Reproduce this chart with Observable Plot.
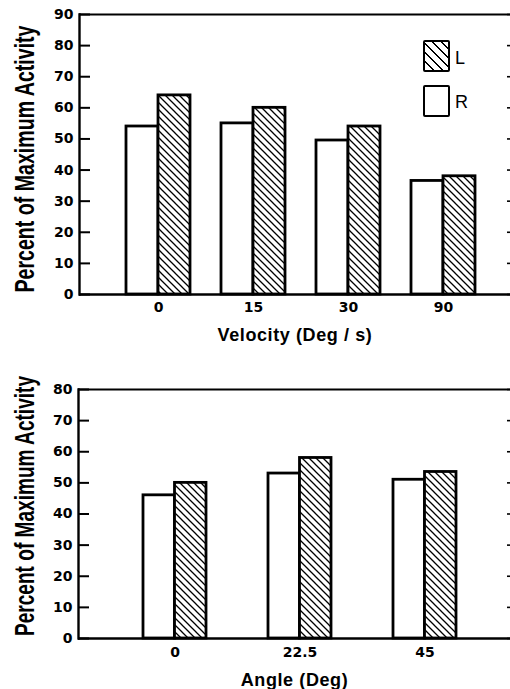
<!DOCTYPE html>
<html><head><meta charset="utf-8">
<script src="https://cdn.jsdelivr.net/npm/d3@7"></script>
<script src="https://cdn.jsdelivr.net/npm/@observablehq/plot@0.6"></script>
<style>
html,body{margin:0;padding:0;background:#fff;overflow:hidden}
#wrap{position:relative;width:510px;height:689px}
#wrap svg{display:block}
g[aria-label="y-axis label"] text{font-family:"Liberation Sans",Arial,sans-serif;font-size:19.5px;font-weight:bold}
g[aria-label="x-axis label"] text{font-family:"Liberation Sans",Arial,sans-serif;font-size:18px;font-weight:bold;letter-spacing:0.6px}
.lg{position:absolute;left:423px;width:60px;height:80px}
.lg .box{position:absolute;left:0;width:23px;height:28px;border:2.6px solid #000;border-radius:2px;background:#fff}
.lg .hatch{background:repeating-linear-gradient(45deg,#fff 0 5px,#000 5px 6.5px)}
.lg .t{position:absolute;left:32px;font:18px "Liberation Sans",Arial,sans-serif;line-height:20px}
</style>
</head><body>
<svg width="0" height="0" style="position:absolute">
<defs><pattern id="hatch" patternUnits="userSpaceOnUse" width="7" height="7"><rect width="7" height="7" fill="#fff"/><path d="M0,0L7,7M-1,6L1,8M6,-1L8,1" stroke="#000" stroke-width="1.3"/></pattern></defs></svg>
<div id="wrap">
<div id="topChart"></div>
<div id="bottomChart"></div>
<div class="lg" style="top:40px">
  <div class="box hatch" style="top:0"></div><div class="t" style="top:8px">L</div>
  <div class="box" style="top:45px"></div><div class="t" style="top:52px">R</div>
</div>
</div>
<script>
const yLabel = "Percent of Maximum Activity";

const velocityCats = ["0", "15", "30", "90"];
const velocityR = [54, 55, 49.5, 36.5];
const velocityL = [64, 60, 54, 38];
const velocityTicks = [0, 10, 20, 30, 40, 50, 60, 70, 80, 90];
const velocityLabel = "Velocity (Deg / s)";

const angleCats = ["0", "22.5", "45"];
const angleR = [46, 53, 51];
const angleL = [50, 58, 53.5];
const angleTicks = [0, 10, 20, 30, 40, 50, 60, 70, 80];
const angleLabel = "Angle (Deg)";

function chart(cats, rVals, lVals, ticks, xLabel, o) {
  const rData = cats.map((c, i) => ({cat: c, v: rVals[i]}));
  const lData = cats.map((c, i) => ({cat: c, v: lVals[i]}));
  const yMax = ticks[ticks.length - 1];
  const W = 510 - o.marginLeft;
  return Plot.plot({
    width: 510, height: o.height,
    marginTop: o.marginTop, marginBottom: o.marginBottom, marginLeft: o.marginLeft, marginRight: 0,
    style: {fontFamily: "DejaVu Sans", fontSize: "14px", fontWeight: "bold", color: "#000", background: "transparent", overflow: "visible"},
    x: {domain: cats, paddingInner: o.pi, paddingOuter: o.po, align: o.align},
    y: {domain: [0, yMax]},
    marks: [
      Plot.barY(rData, {x: "cat", y: "v", fill: "#fff", stroke: "#000", strokeWidth: 2.8, insetRight: o.half}),
      Plot.barY(lData, {x: "cat", y: "v", fill: "url(#hatch)", stroke: "#000", strokeWidth: 2.8, insetLeft: o.half}),
      Plot.ruleY([0], {stroke: "#000", strokeWidth: 2.4}),
      Plot.ruleY([yMax], {stroke: "#000", strokeWidth: 1.8}),
      Plot.frame({anchor: "left", stroke: "#000", strokeWidth: 2.4}),
      Plot.axisY({ticks, tickSize: 0, tickPadding: 6, label: yLabel, labelAnchor: "center", labelOffset: o.yLabelOffset, labelArrow: "none"}),
      Plot.axisX({tickSize: 0, tickPadding: o.tickPad, label: xLabel, labelAnchor: "center", labelArrow: "none", labelOffset: o.labelOffset}),
      Plot.tickY(ticks, {y: d => d, stroke: "#000", strokeWidth: 2, insetRight: W - 11}),
      Plot.tickY(ticks, {y: d => d, stroke: "#000", strokeWidth: 1.6, insetLeft: W - 3})
    ]
  });
}

const topSvg = chart(velocityCats, velocityR, velocityL, velocityTicks, velocityLabel,
  {height: 345, marginTop: 14, marginBottom: 51, marginLeft: 79, pi: 0.33, po: 0.43, align: 0.57, half: 32, tickPad: 8, labelOffset: 46, yLabelOffset: 65});
const bottomSvg = chart(angleCats, angleR, angleL, angleTicks, angleLabel,
  {height: 344, marginTop: 44, marginBottom: 51, marginLeft: 78, pi: 0.5, po: 0.476, align: 0.54, half: 31.5, tickPad: 9, labelOffset: 47, yLabelOffset: 64});
document.getElementById("topChart").append(topSvg);
document.getElementById("bottomChart").append(bottomSvg);

function fixYLabel(svg, len, shift) {
  svg.querySelectorAll('g[aria-label="y-axis label"] text').forEach(t => {
    t.setAttribute("textLength", len);
    t.setAttribute("lengthAdjust", "spacingAndGlyphs");
    const tr = t.getAttribute("transform") || "";
    t.setAttribute("transform", `translate(0,${shift}) ${tr} scale(1,1.38)`);
  });
}
fixYLabel(topSvg, 267, 4.5);
fixYLabel(bottomSvg, 260, -8);
</script>
</body></html>
